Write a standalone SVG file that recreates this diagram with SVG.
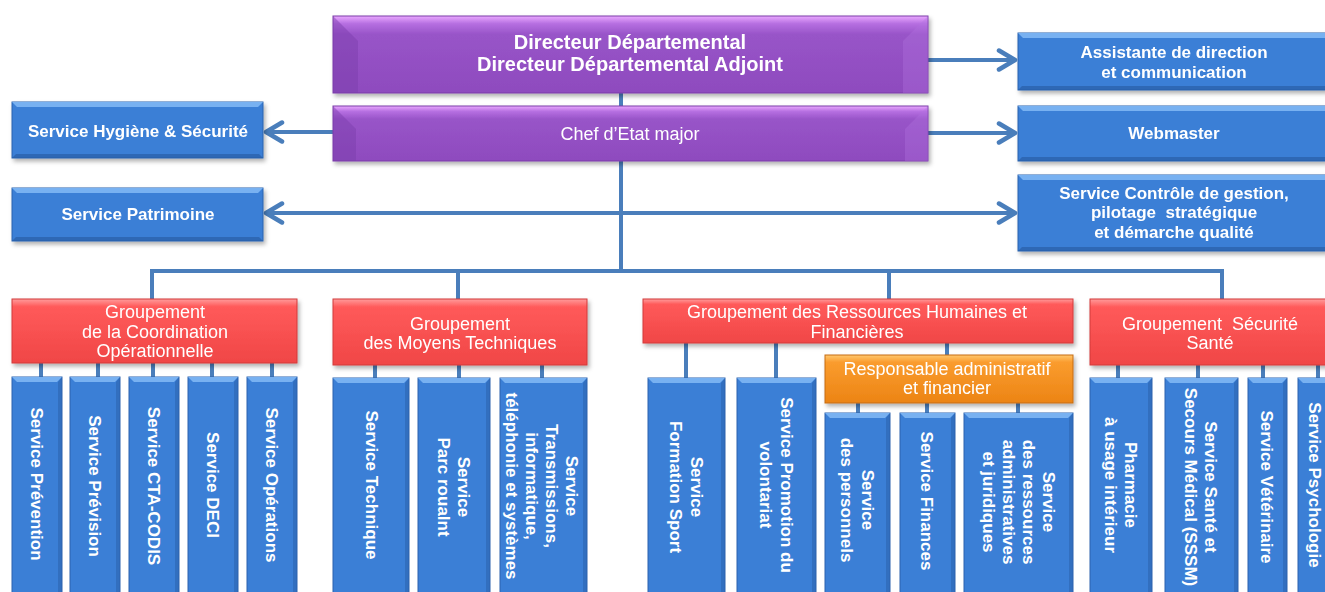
<svg xmlns="http://www.w3.org/2000/svg" width="1325" height="592" viewBox="0 0 1325 592">
<defs>
<style>
.ln{fill:none;stroke:#4a7ebb;stroke-width:4}
.bx{fill:#3b7fd6;stroke:#2d63ae;stroke-width:1}
.bt{fill:#78b1f1}
.br{fill:#2c62ad;opacity:.55}
.bb{fill:#2a5ea6;opacity:.7}
.pu{fill:url(#gpu);stroke:#7a3da8;stroke-width:1}
.rd{fill:url(#grd);stroke:#d23b3b;stroke-width:1}
.or{fill:url(#gor);stroke:#c56c10;stroke-width:1}
text{font-family:"Liberation Sans",Arial,sans-serif;fill:#fff;text-anchor:middle}
.t20{font-size:20px;font-weight:bold}
.t18{font-size:18px}
.t17{font-size:17px;font-weight:bold}
.tg{font-size:18px}
.ts{font-size:17px;font-weight:bold}
</style>
<linearGradient id="gpu" x1="0" y1="0" x2="0" y2="1">
<stop offset="0" stop-color="#eaa8ff"/><stop offset="0.1" stop-color="#b66fe1"/><stop offset="0.24" stop-color="#9854c8"/><stop offset="1" stop-color="#8e4bbe"/>
</linearGradient>
<linearGradient id="grd" x1="0" y1="0" x2="0" y2="1">
<stop offset="0" stop-color="#ff9c9c"/><stop offset="0.12" stop-color="#ff5a5a"/><stop offset="1" stop-color="#f04646"/>
</linearGradient>
<linearGradient id="gor" x1="0" y1="0" x2="0" y2="1">
<stop offset="0" stop-color="#ffc870"/><stop offset="0.15" stop-color="#fa9c2e"/><stop offset="1" stop-color="#ec8414"/>
</linearGradient>
<filter id="sh" x="-10%" y="-10%" width="120%" height="130%">
<feDropShadow dx="2" dy="3" stdDeviation="2" flood-color="#000" flood-opacity="0.3"/>
</filter>
<marker id="chev" viewBox="0 0 22 24" refX="20" refY="12" markerWidth="22" markerHeight="24" markerUnits="userSpaceOnUse" orient="auto-start-reverse">
<path d="M3,2.5 L19,12 L3,21.5" fill="none" stroke="#4a7ebb" stroke-width="4.5" stroke-linecap="round" stroke-linejoin="round"/>
</marker>
</defs>

<g id="connectors">
<line class="ln" x1="621" y1="93" x2="621" y2="271"/>
<line class="ln" x1="928" y1="60" x2="1016" y2="60" marker-end="url(#chev)"/>
<line class="ln" x1="928" y1="133" x2="1016" y2="133" marker-end="url(#chev)"/>
<line class="ln" x1="333" y1="132" x2="265" y2="132" marker-end="url(#chev)"/>
<line class="ln" x1="265" y1="213" x2="1016" y2="213" marker-start="url(#chev)" marker-end="url(#chev)"/>
<polyline class="ln" points="152,299 152,271 1222,271 1222,299"/>
<line class="ln" x1="458" y1="271" x2="458" y2="299"/>
<line class="ln" x1="889" y1="271" x2="889" y2="299"/>
<path class="ln" d="M41,363V377M98,363V377M153,363V377M212,363V377M272,363V377"/>
<path class="ln" d="M375,365V378M459,365V378M542,365V378"/>
<path class="ln" d="M686,343V378M776,343V378M947,343V355"/>
<path class="ln" d="M858,403V413M927,403V413M1018,403V413"/>
<path class="ln" d="M1118,365V378M1198,365V378M1263,365V378M1318,365V378"/>
</g>

<g id="directeur" filter="url(#sh)">
<rect class="pu" x="333" y="16" width="595" height="77"/>
<polygon points="333,16 358,41 358,93 333,93" fill="#7a3cab" opacity="0.45"/>
<polygon points="928,16 903,41 903,93 928,93" fill="#b273e0" opacity="0.35"/>
<text class="t20" x="630" y="49">Directeur Départemental</text>
<text class="t20" x="630" y="71">Directeur Départemental Adjoint</text>
</g>
<g id="chef" filter="url(#sh)">
<rect class="pu" x="333" y="106" width="595" height="55"/>
<polygon points="333,106 356,129 356,161 333,161" fill="#7a3cab" opacity="0.45"/>
<polygon points="928,106 905,129 905,161 928,161" fill="#b273e0" opacity="0.35"/>
<text class="t18" x="630" y="140">Chef d’Etat major</text>
</g>

<g id="hygiene" filter="url(#sh)">
<rect class="bx" x="12" y="102" width="251" height="56"/>
<polygon class="bt" points="12,102 263,102 258,107 17,107"/>
<polygon class="bb" points="12,158 263,158 259,154 16,154"/>
<text class="t17" x="138" y="137">Service Hygiène &amp; Sécurité</text>
</g>
<g id="patrimoine" filter="url(#sh)">
<rect class="bx" x="12" y="188" width="251" height="53"/>
<polygon class="bt" points="12,188 263,188 258,193 17,193"/>
<polygon class="bb" points="12,241 263,241 259,237 16,237"/>
<text class="t17" x="138" y="220">Service Patrimoine</text>
</g>
<g id="assistante" filter="url(#sh)">
<rect class="bx" x="1018" y="33" width="312" height="57"/>
<polygon class="bt" points="1018,33 1330,33 1325,38 1023,38"/>
<polygon class="bb" points="1018,90 1330,90 1326,86 1022,86"/>
<text class="t17" x="1174" y="58">Assistante de direction</text>
<text class="t17" x="1174" y="78">et communication</text>
</g>
<g id="webmaster" filter="url(#sh)">
<rect class="bx" x="1018" y="106" width="312" height="55"/>
<polygon class="bt" points="1018,106 1330,106 1325,111 1023,111"/>
<polygon class="bb" points="1018,161 1330,161 1326,157 1022,157"/>
<text class="t17" x="1174" y="139">Webmaster</text>
</g>
<g id="controle" filter="url(#sh)">
<rect class="bx" x="1018" y="175" width="312" height="76"/>
<polygon class="bt" points="1018,175 1330,175 1325,180 1023,180"/>
<polygon class="bb" points="1018,251 1330,251 1326,247 1022,247"/>
<text class="t17" x="1174" y="199">Service Contrôle de gestion,</text>
<text class="t17" x="1174" y="218" xml:space="preserve">pilotage  stratégique</text>
<text class="t17" x="1174" y="238">et démarche qualité</text>
</g>

<g id="g-coordination" filter="url(#sh)">
<rect class="rd" x="12" y="299" width="285" height="64"/>
<text class="tg" x="155" y="318">Groupement</text>
<text class="tg" x="155" y="338">de la Coordination</text>
<text class="tg" x="155" y="357">Opérationnelle</text>
</g>
<g id="g-moyens" filter="url(#sh)">
<rect class="rd" x="333" y="299" width="254" height="66"/>
<text class="tg" x="460" y="330">Groupement</text>
<text class="tg" x="460" y="349">des Moyens Techniques</text>
</g>
<g id="g-rh" filter="url(#sh)">
<rect class="rd" x="643" y="299" width="430" height="44"/>
<text class="tg" x="857" y="318">Groupement des Ressources Humaines et</text>
<text class="tg" x="857" y="338">Financières</text>
</g>
<g id="g-sante" filter="url(#sh)">
<rect class="rd" x="1090" y="299" width="245" height="66"/>
<text class="tg" x="1210" y="330" xml:space="preserve">Groupement  Sécurité</text>
<text class="tg" x="1210" y="349">Santé</text>
</g>
<g id="responsable" filter="url(#sh)">
<rect class="or" x="825" y="355" width="248" height="48"/>
<text class="tg" x="947" y="375">Responsable administratif</text>
<text class="tg" x="947" y="394">et financier</text>
</g>

<g id="s-prevention">
<rect class="bx" x="12" y="377" width="50" height="223"/>
<polygon class="bt" points="12,377 62,377 57,382 17,382"/>
<polygon class="br" points="62,377 62,600 58,600 58,382"/>
<text class="ts" transform="translate(37,484) rotate(90)" y="6">Service Prévention</text>
</g>
<g id="s-prevision">
<rect class="bx" x="70" y="377" width="50" height="223"/>
<polygon class="bt" points="70,377 120,377 115,382 75,382"/>
<polygon class="br" points="120,377 120,600 116,600 116,382"/>
<text class="ts" transform="translate(95,486) rotate(90)" y="6">Service Prévision</text>
</g>
<g id="s-cta">
<rect class="bx" x="129" y="377" width="50" height="223"/>
<polygon class="bt" points="129,377 179,377 174,382 134,382"/>
<polygon class="br" points="179,377 179,600 175,600 175,382"/>
<text class="ts" transform="translate(154,486) rotate(90)" y="6">Service CTA-CODIS</text>
</g>
<g id="s-deci">
<rect class="bx" x="188" y="377" width="50" height="223"/>
<polygon class="bt" points="188,377 238,377 233,382 193,382"/>
<polygon class="br" points="238,377 238,600 234,600 234,382"/>
<text class="ts" transform="translate(213,485) rotate(90)" y="6">Service DECI</text>
</g>
<g id="s-operations">
<rect class="bx" x="247" y="377" width="50" height="223"/>
<polygon class="bt" points="247,377 297,377 292,382 252,382"/>
<polygon class="br" points="297,377 297,600 293,600 293,382"/>
<text class="ts" transform="translate(272,485) rotate(90)" y="6">Service Opérations</text>
</g>

<g id="s-technique">
<rect class="bx" x="333" y="378" width="76" height="222"/>
<polygon class="bt" points="333,378 409,378 404,383 338,383"/>
<polygon class="br" points="409,378 409,600 405,600 405,383"/>
<text class="ts" transform="translate(372,485) rotate(90)" y="6">Service Technique</text>
</g>
<g id="s-parc">
<rect class="bx" x="418" y="378" width="72" height="222"/>
<polygon class="bt" points="418,378 490,378 485,383 423,383"/>
<polygon class="br" points="490,378 490,600 486,600 486,383"/>
<text class="ts" transform="translate(464,487) rotate(90)" y="6">Service</text>
<text class="ts" transform="translate(444,487) rotate(90)" y="6">Parc roualnt</text>
</g>
<g id="s-transmissions">
<rect class="bx" x="500" y="378" width="87" height="222"/>
<polygon class="bt" points="500,378 587,378 582,383 505,383"/>
<polygon class="br" points="587,378 587,600 583,600 583,383"/>
<text class="ts" transform="translate(572,486) rotate(90)" y="6">Service</text>
<text class="ts" transform="translate(552,486) rotate(90)" y="6">Transmissions,</text>
<text class="ts" transform="translate(532,486) rotate(90)" y="6">informatique,</text>
<text class="ts" transform="translate(512,486) rotate(90)" y="6">téléphonie et systèmes</text>
</g>

<g id="s-formation">
<rect class="bx" x="648" y="378" width="77" height="222"/>
<polygon class="bt" points="648,378 725,378 720,383 653,383"/>
<polygon class="br" points="725,378 725,600 721,600 721,383"/>
<text class="ts" transform="translate(697,487) rotate(90)" y="6">Service</text>
<text class="ts" transform="translate(676,487) rotate(90)" y="6">Formation Sport</text>
</g>
<g id="s-promotion">
<rect class="bx" x="737" y="378" width="79" height="222"/>
<polygon class="bt" points="737,378 816,378 811,383 742,383"/>
<polygon class="br" points="816,378 816,600 812,600 812,383"/>
<text class="ts" transform="translate(787,485) rotate(90)" y="6">Service Promotion du</text>
<text class="ts" transform="translate(766,485) rotate(90)" y="6">volontariat</text>
</g>
<g id="s-personnels">
<rect class="bx" x="825" y="413" width="65" height="187"/>
<polygon class="bt" points="825,413 890,413 885,418 830,418"/>
<polygon class="br" points="890,413 890,600 886,600 886,418"/>
<text class="ts" transform="translate(868,500) rotate(90)" y="6">Service</text>
<text class="ts" transform="translate(847,500) rotate(90)" y="6">des personnels</text>
</g>
<g id="s-finances">
<rect class="bx" x="900" y="413" width="55" height="187"/>
<polygon class="bt" points="900,413 955,413 950,418 905,418"/>
<polygon class="br" points="955,413 955,600 951,600 951,418"/>
<text class="ts" transform="translate(927,501) rotate(90)" y="6">Service Finances</text>
</g>
<g id="s-ressources">
<rect class="bx" x="964" y="413" width="109" height="187"/>
<polygon class="bt" points="964,413 1073,413 1068,418 969,418"/>
<polygon class="br" points="1073,413 1073,600 1069,600 1069,418"/>
<text class="ts" transform="translate(1049,502) rotate(90)" y="6">Service</text>
<text class="ts" transform="translate(1029,502) rotate(90)" y="6">des ressources</text>
<text class="ts" transform="translate(1009,502) rotate(90)" y="6">administratives</text>
<text class="ts" transform="translate(989,502) rotate(90)" y="6">et juridiques</text>
</g>

<g id="s-pharmacie">
<rect class="bx" x="1090" y="378" width="62" height="222"/>
<polygon class="bt" points="1090,378 1152,378 1147,383 1095,383"/>
<polygon class="br" points="1152,378 1152,600 1148,600 1148,383"/>
<text class="ts" transform="translate(1131,485) rotate(90)" y="6">Pharmacie</text>
<text class="ts" transform="translate(1111,485) rotate(90)" y="6">à usage intérieur</text>
</g>
<g id="s-sssm">
<rect class="bx" x="1165" y="378" width="73" height="222"/>
<polygon class="bt" points="1165,378 1238,378 1233,383 1170,383"/>
<polygon class="br" points="1238,378 1238,600 1234,600 1234,383"/>
<text class="ts" transform="translate(1211,487) rotate(90)" y="6">Service Santé et</text>
<text class="ts" transform="translate(1191,487) rotate(90)" y="6">Secours Médical (SSSM)</text>
</g>
<g id="s-veterinaire">
<rect class="bx" x="1248" y="378" width="39" height="222"/>
<polygon class="bt" points="1248,378 1287,378 1282,383 1253,383"/>
<polygon class="br" points="1287,378 1287,600 1283,600 1283,383"/>
<text class="ts" transform="translate(1267,487) rotate(90)" y="6">Service Vétérinaire</text>
</g>
<g id="s-psychologie">
<rect class="bx" x="1298" y="378" width="40" height="222"/>
<polygon class="bt" points="1298,378 1338,378 1333,383 1303,383"/>
<text class="ts" transform="translate(1315,485) rotate(90)" y="6">Service Psychologie</text>
</g>
</svg>
